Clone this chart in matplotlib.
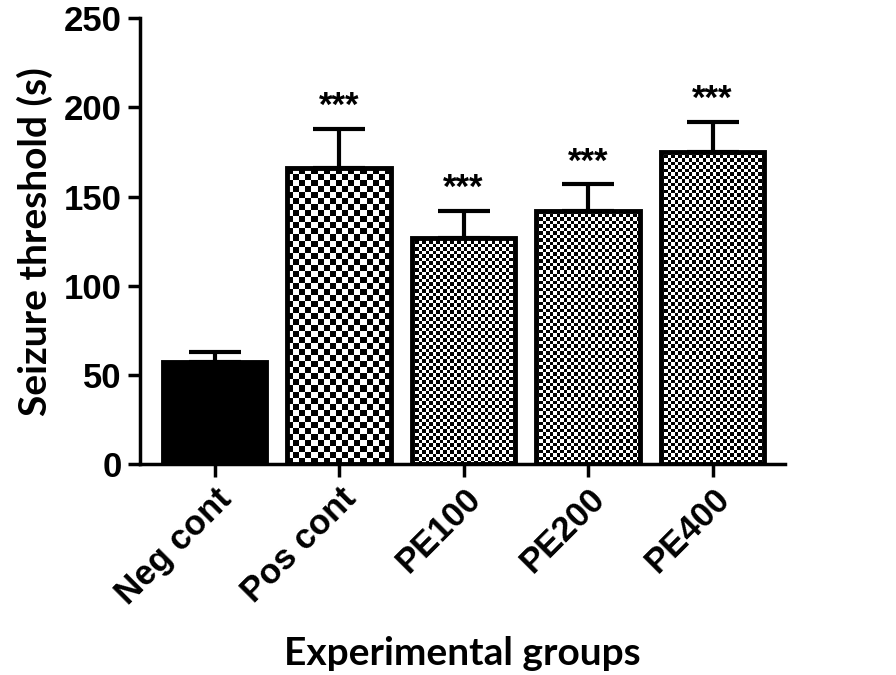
import numpy as np
import matplotlib.pyplot as plt

groups = ['Neg cont', 'Pos cont', 'PE100', 'PE200', 'PE400']
means = [57, 166, 127, 142, 175]
errors = [6, 22, 15, 15, 17]
stars = ['', '***', '***', '***', '***']
# checker cell size in pixels (0 = solid black)
cells = [0, 6, 3.5, 3.5, 3.5]

fig = plt.figure(figsize=(8.96, 6.75), dpi=100)
ax = fig.add_axes([0.156, 0.3126, 0.72, 0.6604])

x = np.arange(len(groups))
width = 0.83
ax.set_xlim(-0.6, 4.58)
ax.set_ylim(0, 250)

bars = ax.bar(x, means, width, color='none', edgecolor='black', linewidth=3.5, zorder=3)
fig.canvas.draw()

# pixel size of data units
px_per_x = ax.transData.transform((1, 0))[0] - ax.transData.transform((0, 0))[0]
px_per_y = ax.transData.transform((0, 1))[1] - ax.transData.transform((0, 0))[1]

for b, cell in zip(bars, cells):
    x0, w, h = b.get_x(), b.get_width(), b.get_height()
    if cell == 0:
        b.set_facecolor('black')
        continue
    nx = max(1, int(round(w * px_per_x / cell)))
    ny = max(1, int(round(h * px_per_y / cell)))
    board = (np.add.outer(np.arange(ny), np.arange(nx)) % 2).astype(float)
    im = ax.imshow(board, cmap='gray', extent=(x0, x0 + w, 0, h), origin='lower',
                   interpolation='nearest', aspect='auto', zorder=2)
    im.set_clip_path(b)

ax.errorbar(x, means, yerr=[np.zeros(len(x)), errors], fmt='none', ecolor='black',
            elinewidth=3, capsize=19, capthick=3, zorder=4)

for xi, m, e, s in zip(x, means, errors, stars):
    if s:
        ax.annotate(s, (xi, m + e), xytext=(0, 4), textcoords='offset points',
                    ha='center', va='bottom', fontsize=25, fontweight='bold',
                    family='Liberation Sans')

ax.set_xlim(-0.6, 4.58)
ax.set_ylim(0, 250)
ax.spines['top'].set_visible(False)
ax.spines['right'].set_visible(False)
for sp in ['left', 'bottom']:
    ax.spines[sp].set_linewidth(2.5)

ax.set_yticks([0, 50, 100, 150, 200, 250])
ax.set_xticks(x)
ax.set_xticklabels(groups, rotation=45, ha='right', rotation_mode='anchor')
ax.tick_params(axis='both', width=2.5, length=9, direction='out', pad=4)
for lab in ax.get_xticklabels() + ax.get_yticklabels():
    lab.set_fontfamily('Liberation Sans')
    lab.set_fontweight('bold')
    lab.set_fontsize(25)

ax.set_ylabel('Seizure threshold (s)', fontsize=28, fontweight='bold', family='Lato', labelpad=8)
ax.set_xlabel('Experimental groups', fontsize=28, fontweight='bold', family='Lato', labelpad=18)

fig.savefig('out.png', dpi=100)
